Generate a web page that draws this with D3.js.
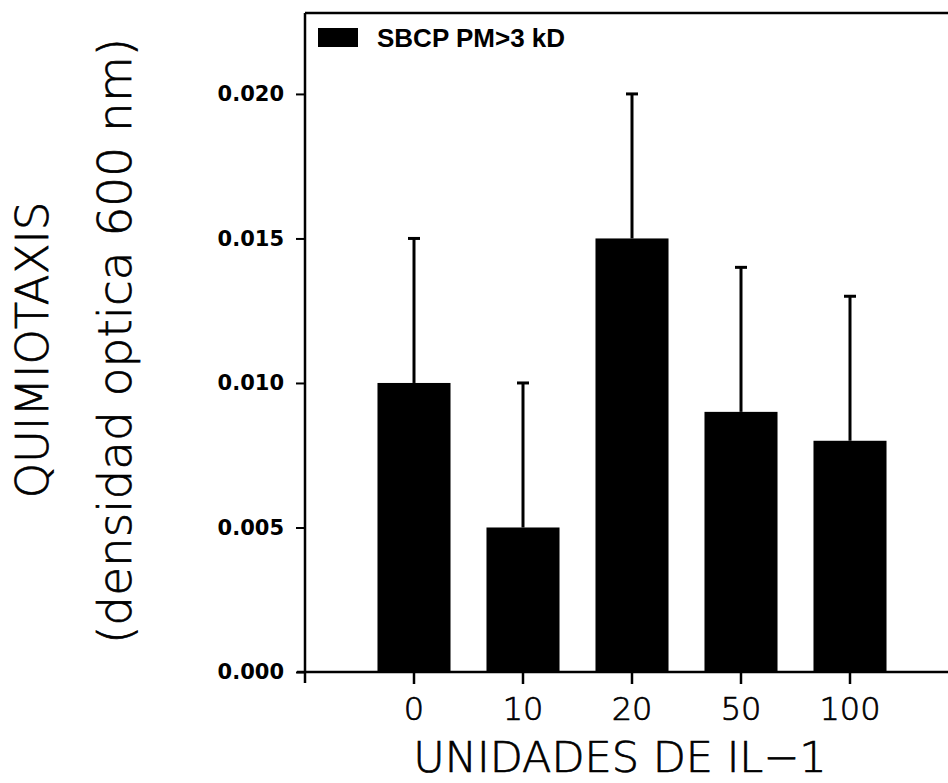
<!DOCTYPE html>
<html>
<head>
<meta charset="utf-8">
<script src="https://cdn.jsdelivr.net/npm/d3@7"></script>
<style>
  html, body { margin: 0; padding: 0; background: #fff; }
  svg { display: block; }
</style>
</head>
<body>
<svg id="chart" width="948" height="783"></svg>
<script>
// IL-1 dose groups and chemotaxis (optical density at 600 nm)
const categories = ["0", "10", "20", "50", "100"];
const means = [0.010, 0.005, 0.015, 0.009, 0.008];
const errors = [0.005, 0.005, 0.005, 0.005, 0.005];
const yTicks = [0.000, 0.005, 0.010, 0.015, 0.020];
const seriesName = "SBCP PM>3 kD";

const svg = d3.select("#chart");
const W = 948, H = 783;
const plotLeft = 305, plotTop = 13, plotBottom = 672;
const step = 109;

const x = d3.scaleBand()
  .domain(categories)
  .range([plotLeft + step / 2, plotLeft + step / 2 + step * categories.length])
  .paddingInner(0.33)
  .paddingOuter(0.165);

const y = d3.scaleLinear()
  .domain([0, 0.0228])
  .range([plotBottom, plotTop]);

const titleFont = "'DejaVu Sans', sans-serif";

// thin outline gives the light face a slightly heavier stroke
function lightText(sel, size) {
  return sel
    .style("font-family", titleFont)
    .style("font-weight", "200")
    .style("font-size", size + "px")
    .attr("fill", "#000")
    .attr("stroke", "#000")
    .attr("stroke-width", 0.7);
}

// bars
svg.append("g").selectAll("rect")
  .data(categories)
  .join("rect")
  .attr("x", (d) => x(d))
  .attr("width", x.bandwidth())
  .attr("y", (d, i) => y(means[i]))
  .attr("height", (d, i) => plotBottom - y(means[i]))
  .attr("fill", "#000");

// upper error bars
const eb = svg.append("g").attr("stroke", "#000");
categories.forEach((c, i) => {
  const cx = x(c) + x.bandwidth() / 2;
  const yt = y(means[i] + errors[i]);
  eb.append("line")
    .attr("x1", cx).attr("x2", cx)
    .attr("y1", y(means[i])).attr("y2", yt)
    .attr("stroke-width", 3);
  eb.append("line")
    .attr("x1", cx - 6).attr("x2", cx + 6)
    .attr("y1", yt).attr("y2", yt)
    .attr("stroke-width", 3);
});

// y axis
const yAxis = svg.append("g")
  .attr("transform", `translate(${plotLeft},0)`)
  .call(d3.axisLeft(y).tickValues(yTicks).tickFormat(d3.format(".3f")).tickSize(9).tickPadding(12));
yAxis.select(".domain").remove();
yAxis.selectAll(".tick line").attr("stroke", "#000").attr("stroke-width", 2);
yAxis.selectAll(".tick text")
  .attr("fill", "#000")
  .style("font-family", titleFont)
  .style("font-weight", "bold")
  .style("font-size", "21px");

// x axis
const xAxis = svg.append("g")
  .attr("transform", `translate(0,${plotBottom})`)
  .call(d3.axisBottom(x).tickSize(12).tickPadding(13));
xAxis.select(".domain").remove();
xAxis.selectAll(".tick line").attr("stroke", "#000").attr("stroke-width", 2.5);
lightText(xAxis.selectAll(".tick text"), 32);

// frame: left axis, bottom axis and top edge
const frame = svg.append("g").attr("stroke", "#000").attr("stroke-width", 2.5);
frame.append("line").attr("x1", plotLeft).attr("x2", plotLeft).attr("y1", plotTop).attr("y2", plotBottom + 11);
frame.append("line").attr("x1", plotLeft - 8).attr("x2", W).attr("y1", plotBottom).attr("y2", plotBottom);
frame.append("line").attr("x1", plotLeft).attr("x2", W).attr("y1", plotTop).attr("y2", plotTop);

// legend
svg.append("rect")
  .attr("x", 318).attr("y", 28).attr("width", 40).attr("height", 19)
  .attr("fill", "#000");
svg.append("text")
  .attr("x", 377).attr("y", 47)
  .style("font-family", "'Liberation Sans', Arial, sans-serif")
  .style("font-weight", "bold")
  .style("font-size", "26px")
  .text(seriesName);

// axis titles
lightText(svg.append("text"), 45)
  .attr("transform", "translate(48,350) rotate(-90)")
  .attr("text-anchor", "middle")
  .text("QUIMIOTAXIS");

lightText(svg.append("text"), 47)
  .attr("transform", "translate(131,341) rotate(-90)")
  .attr("text-anchor", "middle")
  .text("(densidad optica 600 nm)");

lightText(svg.append("text"), 43)
  .attr("x", 620).attr("y", 772)
  .attr("text-anchor", "middle")
  .text("UNIDADES DE IL\u22121");
</script>
</body>
</html>
